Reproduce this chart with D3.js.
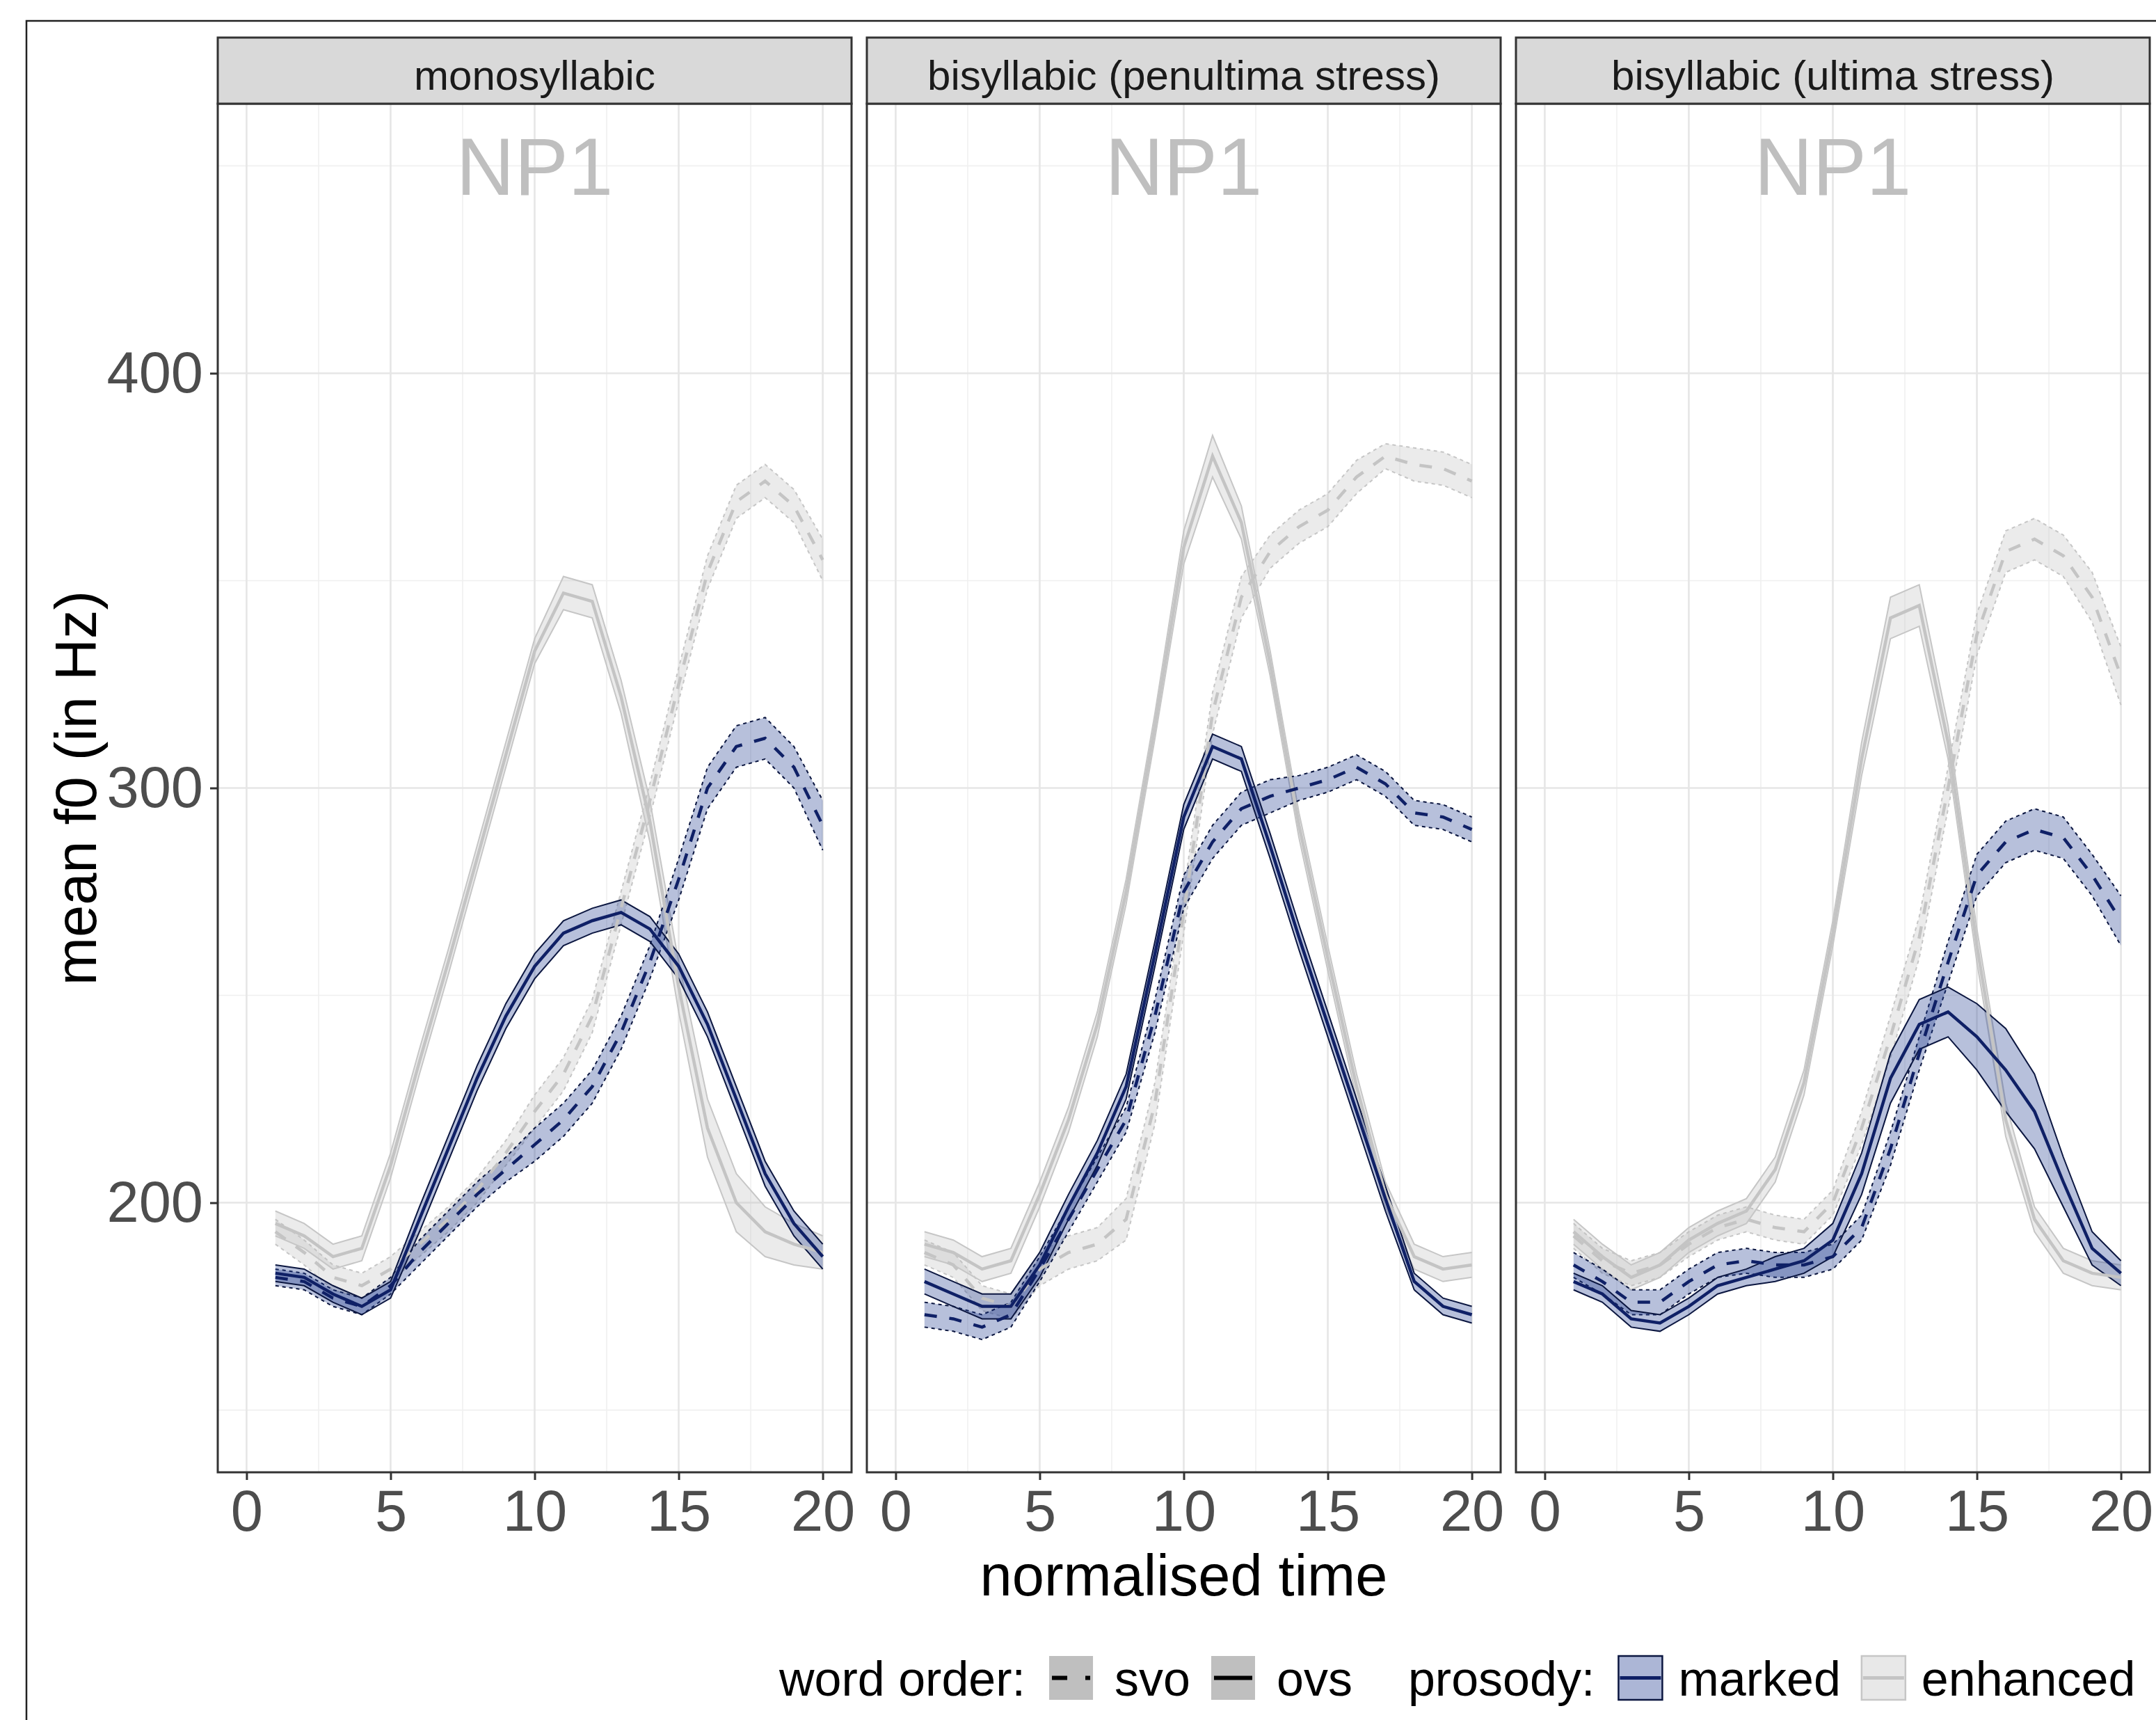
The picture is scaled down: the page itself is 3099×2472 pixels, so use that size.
<!DOCTYPE html>
<html>
<head>
<meta charset="utf-8">
<script src="https://cdn.jsdelivr.net/npm/d3@7"></script>
<style>
  body { margin: 0; background: #fff; }
  text { font-family: "Liberation Sans", Arial, sans-serif; }
</style>
</head>
<body>
<div id="chart"></div>
<script>
// ---- data ----
var timeSteps = [1, 2, 3, 4, 5, 6, 7, 8, 9, 10, 11, 12, 13, 14, 15, 16, 17, 18, 19, 20];
var panelNames = ["monosyllabic", "bisyllabic (penultima stress)", "bisyllabic (ultima stress)"];
var wordOrders = ["svo", "ovs"];
var prosodies = ["marked", "enhanced"];
var annotationLabel = "NP1";
var xTicks = [0, 5, 10, 15, 20];
var yTicks = [200, 300, 400];

// monosyllabic
var monoSvoEnhanced   = [193, 188, 182, 180, 184, 190, 196, 203, 212, 222, 231, 245, 271, 297, 325, 352, 369, 374, 368, 355];
var monoSvoEnhancedCi = [3, 3, 3, 3, 3, 3, 3, 3, 3, 4, 4, 4, 4, 4, 4, 4, 4, 4, 4, 5];
var monoOvsEnhanced   = [195, 192, 187, 189, 209, 234, 258, 283, 308, 333, 347, 345, 322, 292, 252, 218, 200, 193, 190, 188];
var monoOvsEnhancedCi = [3, 3, 3, 3, 3, 3, 3, 3, 3, 3, 4, 4, 4, 5, 6, 7, 7, 6, 5, 4];
var monoSvoMarked     = [182, 181, 177, 175, 180, 188, 195, 202, 208, 214, 220, 228, 241, 258, 278, 300, 310, 312, 305, 291];
var monoSvoMarkedCi   = [2, 2, 2, 2, 2, 3, 3, 3, 3, 4, 4, 4, 4, 4, 5, 5, 5, 5, 5, 6];
var monoOvsMarked     = [183, 182, 178, 175, 179, 196, 213, 230, 245, 257, 265, 268, 270, 266, 257, 243, 225, 207, 195, 187];
var monoOvsMarkedCi   = [2, 2, 2, 2, 2, 3, 3, 3, 3, 3, 3, 3, 3, 3, 3, 3, 3, 3, 3, 3];

// bisyllabic, penultima stress
var penSvoEnhanced   = [188, 185, 177, 175, 184, 188, 190, 196, 224, 270, 318, 346, 357, 363, 367, 375, 380, 378, 377, 374];
var penSvoEnhancedCi = [3, 3, 3, 3, 4, 4, 4, 5, 5, 5, 5, 5, 4, 4, 4, 4, 3, 4, 4, 4];
var penOvsEnhanced   = [190, 188, 184, 186, 202, 220, 243, 275, 315, 358, 380, 364, 330, 291, 259, 228, 202, 187, 184, 185];
var penOvsEnhancedCi = [3, 3, 3, 3, 3, 3, 3, 3, 3, 4, 5, 4, 3, 3, 3, 3, 3, 3, 3, 3];
var penSvoMarked     = [173, 172, 170, 173, 184, 196, 208, 220, 245, 275, 287, 295, 298, 300, 302, 305, 301, 294, 293, 290];
var penSvoMarkedCi   = [3, 3, 3, 3, 3, 3, 3, 3, 4, 4, 4, 4, 4, 3, 3, 3, 3, 3, 3, 3];
var penOvsMarked     = [181, 178, 175, 175, 185, 199, 212, 228, 260, 293, 310, 307, 286, 264, 243, 222, 201, 181, 175, 173];
var penOvsMarkedCi   = [3, 3, 3, 3, 3, 3, 3, 3, 3, 3, 3, 3, 3, 3, 3, 3, 3, 2, 2, 2];

// bisyllabic, ultima stress
var ultSvoEnhanced   = [192, 186, 183, 185, 190, 194, 196, 194, 193, 200, 218, 240, 264, 300, 337, 357, 360, 356, 346, 327];
var ultSvoEnhancedCi = [3, 3, 3, 3, 3, 3, 3, 3, 3, 3, 4, 5, 5, 5, 5, 5, 5, 5, 6, 7];
var ultOvsEnhanced   = [193, 187, 182, 185, 191, 195, 198, 208, 229, 265, 307, 341, 344, 311, 262, 220, 196, 186, 183, 182];
var ultOvsEnhancedCi = [3, 3, 3, 3, 3, 3, 3, 3, 3, 3, 4, 5, 5, 4, 4, 4, 3, 3, 3, 3];
var ultSvoMarked     = [185, 181, 176, 176, 181, 185, 186, 185, 185, 187, 194, 213, 236, 258, 279, 287, 290, 288, 279, 268];
var ultSvoMarkedCi   = [3, 3, 3, 3, 3, 3, 3, 3, 3, 3, 3, 4, 4, 5, 5, 5, 5, 5, 5, 6];
var ultOvsMarked     = [181, 178, 172, 171, 175, 180, 182, 184, 186, 191, 207, 230, 243, 246, 240, 232, 222, 205, 189, 183];
var ultOvsMarkedCi   = [2, 2, 2, 2, 2, 2, 2, 3, 3, 4, 5, 6, 6, 6, 8, 10, 9, 6, 4, 3];

// table per panel (draw order: enhanced under marked)
function makeSeries(svoEnh, svoEnhCi, ovsEnh, ovsEnhCi, svoMark, svoMarkCi, ovsMark, ovsMarkCi) {
  return [
    {order: "svo", prosody: "enhanced", mean: svoEnh, ci: svoEnhCi},
    {order: "ovs", prosody: "enhanced", mean: ovsEnh, ci: ovsEnhCi},
    {order: "svo", prosody: "marked", mean: svoMark, ci: svoMarkCi},
    {order: "ovs", prosody: "marked", mean: ovsMark, ci: ovsMarkCi}
  ];
}
var panels = [
  {name: panelNames[0], series: makeSeries(monoSvoEnhanced, monoSvoEnhancedCi, monoOvsEnhanced, monoOvsEnhancedCi, monoSvoMarked, monoSvoMarkedCi, monoOvsMarked, monoOvsMarkedCi)},
  {name: panelNames[1], series: makeSeries(penSvoEnhanced, penSvoEnhancedCi, penOvsEnhanced, penOvsEnhancedCi, penSvoMarked, penSvoMarkedCi, penOvsMarked, penOvsMarkedCi)},
  {name: panelNames[2], series: makeSeries(ultSvoEnhanced, ultSvoEnhancedCi, ultOvsEnhanced, ultOvsEnhancedCi, ultSvoMarked, ultSvoMarkedCi, ultOvsMarked, ultOvsMarkedCi)}
];

// ---- styles ----
var W = 3099, H = 2472;
var panelLeft = 313, panelTop = 149, panelW = 911, panelH = 1967, panelGap = 22;
var stripH = 95;
var navy = "#0f2066";
var style = {
  marked:   {line: navy, fill: "#1f3a8f", fillOpacity: 0.32, edge: "#0b1640"},
  enhanced: {line: "#c4c4c4", fill: "#bdbdbd", fillOpacity: 0.3, edge: "#c6c6c6"}
};
var tickFont = 83, titleFont = 83, stripFont = 60, legendFont = 70, annoFont = 116;

var svg = d3.select("#chart").append("svg")
  .attr("width", W).attr("height", H);

svg.append("rect").attr("width", W).attr("height", H).attr("fill", "#fff");
// outer plot border
svg.append("rect")
  .attr("x", 38).attr("y", 30).attr("width", W).attr("height", H)
  .attr("fill", "none").attr("stroke", "#222").attr("stroke-width", 2.5);

var x = d3.scaleLinear().domain([-1, 21]).range([0, panelW]);
var y = d3.scaleLinear().domain([135, 465]).range([panelH, 0]);

var xMinor = [2.5, 7.5, 12.5, 17.5];
var yMinor = [150, 250, 350, 450];

var line = d3.line()
  .x(function(d, i) { return x(timeSteps[i]); })
  .y(function(d) { return y(d); });

panels.forEach(function(p, pi) {
  var g = svg.append("g")
    .attr("transform", "translate(" + (panelLeft + pi * (panelW + panelGap)) + "," + panelTop + ")");

  // grid
  g.selectAll(".xminor").data(xMinor).enter().append("line")
    .attr("x1", x).attr("x2", x).attr("y1", 0).attr("y2", panelH)
    .attr("stroke", "#f0f0f0").attr("stroke-width", 1.6);
  g.selectAll(".yminor").data(yMinor).enter().append("line")
    .attr("x1", 0).attr("x2", panelW).attr("y1", y).attr("y2", y)
    .attr("stroke", "#f0f0f0").attr("stroke-width", 1.6);
  g.selectAll(".xmajor").data(xTicks).enter().append("line")
    .attr("x1", x).attr("x2", x).attr("y1", 0).attr("y2", panelH)
    .attr("stroke", "#e6e6e6").attr("stroke-width", 2.6);
  g.selectAll(".ymajor").data(yTicks).enter().append("line")
    .attr("x1", 0).attr("x2", panelW).attr("y1", y).attr("y2", y)
    .attr("stroke", "#e6e6e6").attr("stroke-width", 2.6);

  // NP1 label
  g.append("text")
    .attr("x", x(10)).attr("y", y(450)).attr("dy", "0.36em")
    .attr("text-anchor", "middle")
    .attr("font-size", annoFont).attr("fill", "#bfbfbf")
    .text(annotationLabel);

  // ribbons
  p.series.forEach(function(s) {
    var st = style[s.prosody];
    var area = d3.area()
      .x(function(d, i) { return x(timeSteps[i]); })
      .y0(function(d, i) { return y(d - s.ci[i]); })
      .y1(function(d, i) { return y(d + s.ci[i]); });
    g.append("path").datum(s.mean)
      .attr("d", area)
      .attr("fill", st.fill).attr("fill-opacity", st.fillOpacity);
    var edges = [
      s.mean.map(function(d, i) { return d + s.ci[i]; }),
      s.mean.map(function(d, i) { return d - s.ci[i]; })
    ];
    edges.forEach(function(e) {
      g.append("path").datum(e)
        .attr("d", line)
        .attr("fill", "none")
        .attr("stroke", st.edge).attr("stroke-width", 2)
        .attr("stroke-dasharray", s.order == "svo" ? "5,5" : null);
    });
  });

  // mean lines
  p.series.forEach(function(s) {
    var st = style[s.prosody];
    g.append("path").datum(s.mean)
      .attr("d", line)
      .attr("fill", "none")
      .attr("stroke", st.line).attr("stroke-width", 4.5)
      .attr("stroke-dasharray", s.order == "svo" ? "18,18" : null);
  });

  // panel border
  g.append("rect")
    .attr("width", panelW).attr("height", panelH)
    .attr("fill", "none").attr("stroke", "#333").attr("stroke-width", 3);

  // strip
  g.append("rect")
    .attr("y", -stripH).attr("width", panelW).attr("height", stripH)
    .attr("fill", "#d9d9d9").attr("stroke", "#333").attr("stroke-width", 3);
  g.append("text")
    .attr("x", panelW / 2).attr("y", -stripH / 2).attr("dy", "0.45em")
    .attr("text-anchor", "middle").attr("font-size", stripFont).attr("fill", "#1a1a1a")
    .text(p.name);

  // x axis
  var xAxis = g.append("g")
    .attr("transform", "translate(0," + panelH + ")")
    .call(d3.axisBottom(x).tickValues(xTicks).tickSize(11).tickPadding(14));
  xAxis.select(".domain").remove();
  xAxis.selectAll("line").attr("stroke", "#333").attr("stroke-width", 3);
  xAxis.selectAll("text")
    .attr("font-size", tickFont).attr("fill", "#4d4d4d")
    .attr("font-family", "Liberation Sans, Arial, sans-serif");

  // y axis only on first panel
  if (pi == 0) {
    var yAxis = g.append("g")
      .call(d3.axisLeft(y).tickValues(yTicks).tickSize(11).tickPadding(10));
    yAxis.select(".domain").remove();
    yAxis.selectAll("line").attr("stroke", "#333").attr("stroke-width", 3);
    yAxis.selectAll("text")
      .attr("font-size", tickFont).attr("fill", "#4d4d4d")
      .attr("font-family", "Liberation Sans, Arial, sans-serif");
  }
});

// axis titles
var plotRight = panelLeft + 3 * panelW + 2 * panelGap;
svg.append("text")
  .attr("x", (panelLeft + plotRight) / 2).attr("y", 2293)
  .attr("text-anchor", "middle").attr("font-size", titleFont).attr("fill", "#000")
  .text("normalised time");
svg.append("text")
  .attr("transform", "translate(109," + (panelTop + panelH / 2) + ") rotate(-90)")
  .attr("dy", "0.35em")
  .attr("text-anchor", "middle").attr("font-size", titleFont).attr("fill", "#000")
  .text("mean f0 (in Hz)");

// ---- legend ----
var legY = 2380, keySize = 63;
var legend = svg.append("g");
var cursor = 1120;

function legText(str) {
  var t = legend.append("text")
    .attr("x", cursor).attr("y", legY + keySize / 2).attr("dy", "0.36em")
    .attr("font-size", legendFont).attr("fill", "#000")
    .text(str);
  cursor += t.node().getComputedTextLength();
}

legText("word order:");
cursor += 34;
wordOrders.forEach(function(o) {
  legend.append("rect")
    .attr("x", cursor).attr("y", legY).attr("width", keySize).attr("height", keySize)
    .attr("fill", "#bfbfbf");
  legend.append("line")
    .attr("x1", cursor + 4).attr("x2", cursor + keySize - 4)
    .attr("y1", legY + keySize / 2).attr("y2", legY + keySize / 2)
    .attr("stroke", "#000").attr("stroke-width", 6)
    .attr("stroke-dasharray", o == "svo" ? "22,26" : null);
  cursor += keySize + 31;
  legText(o);
  cursor += 30;
});
cursor += 50;
legText("prosody:");
cursor += 34;
prosodies.forEach(function(pr) {
  var st = style[pr];
  legend.append("rect")
    .attr("x", cursor).attr("y", legY).attr("width", keySize).attr("height", keySize)
    .attr("fill", st.fill).attr("fill-opacity", st.fillOpacity + 0.05)
    .attr("stroke", st.edge).attr("stroke-width", 2.5);
  legend.append("line")
    .attr("x1", cursor + 2).attr("x2", cursor + keySize - 2)
    .attr("y1", legY + keySize / 2).attr("y2", legY + keySize / 2)
    .attr("stroke", st.line).attr("stroke-width", 5);
  cursor += keySize + 23;
  legText(pr);
  cursor += 30;
});
</script>
</body>
</html>
